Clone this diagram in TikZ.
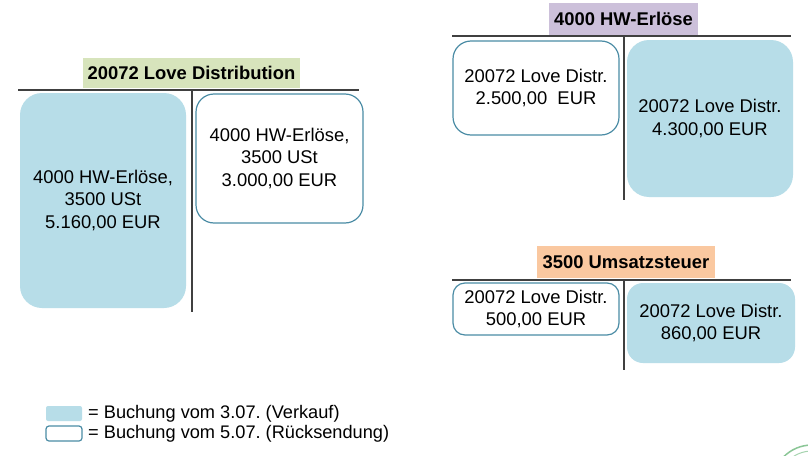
\documentclass[tikz,border=0pt]{standalone}
\usepackage{fontspec}
\setmainfont{Liberation Sans}
\frenchspacing
\definecolor{bookblue}{RGB}{183,221,232}
\definecolor{bookedge}{RGB}{75,140,165}
\definecolor{tline}{RGB}{64,64,64}
\definecolor{titlegreen}{RGB}{215,228,188}
\definecolor{titlelila}{RGB}{204,192,218}
\definecolor{titlepeach}{RGB}{250,200,160}
\definecolor{stampgreen}{RGB}{60,160,80}
\tikzset{
  x=1pt, y=-1pt,
  tacc/.style={draw=tline, line width=1.5pt},
  sale/.style={fill=bookblue, draw=none, rounded corners=#1, inner sep=0pt, align=center, font=\fontsize{18.4}{22.5}\selectfont},
  sale/.default=22pt,
  ret/.style={fill=white, draw=bookedge, line width=1.2pt, rounded corners=#1, inner sep=0pt, align=center, font=\fontsize{18.4}{22.5}\selectfont},
  ret/.default=18pt,
  acctitle/.style={inner sep=0pt, font=\bfseries\fontsize{18.4}{22}\selectfont},
  legtext/.style={anchor=west, inner sep=0pt, font=\fontsize{18.2}{22}\selectfont},
}
\begin{document}
\begin{tikzpicture}
\useasboundingbox (0,0) rectangle (808,455);
\fill[white] (0,0) rectangle (808,455);

% ---- Account 20072 Love Distribution
\node[acctitle, fill=titlegreen, minimum width=217pt, minimum height=30pt] (t1) at (191.5,73) {20072 Love Distribution};
\coordinate (h1l) at (18,90);
\coordinate (h1r) at (359,90);
\coordinate (v1t) at (192,90);
\coordinate (v1b) at (192,312);
\node[sale, minimum width=166pt, minimum height=215pt] (b1) at (103,200.5) {4000 HW-Erlöse,\\3500 USt\\5.160,00 EUR};
\node[ret, minimum width=167pt, minimum height=129pt] (w1) at (279.5,158.5) {4000 HW-Erlöse,\\3500 USt\\3.000,00 EUR};
\draw[tacc] (h1l) -- (h1r);
\draw[tacc] (v1t) -- (v1b);

% ---- Account 4000 HW-Erlöse
\node[acctitle, fill=titlelila, minimum width=149pt, minimum height=32pt] (t2) at (623.5,19) {4000 HW-Erlöse};
\coordinate (h2l) at (452,36);
\coordinate (h2r) at (791,36);
\coordinate (v2t) at (624,36);
\coordinate (v2b) at (624,200);
\draw[tacc] (h2l) -- (h2r);
\draw[tacc] (v2t) -- (v2b);
\node[ret, minimum width=166pt, minimum height=94pt] (w2) at (536,88) {20072 Love Distr.\\2.500,00~~EUR};
\node[sale, minimum width=166pt, minimum height=157pt] (b2) at (710,118.5) {20072 Love Distr.\\4.300,00 EUR};

% ---- Account 3500 Umsatzsteuer
\node[acctitle, fill=titlepeach, minimum width=178pt, minimum height=32pt] (t3) at (626,262) {3500 Umsatzsteuer};
\coordinate (h3l) at (452,280);
\coordinate (h3r) at (791,280);
\coordinate (v3t) at (624,280);
\coordinate (v3b) at (624,370);
\draw[tacc] (h3l) -- (h3r);
\draw[tacc] (v3t) -- (v3b);
\node[ret=12pt, minimum width=166pt, minimum height=52pt] (w3) at (536,309) {20072 Love Distr.\\500,00 EUR};
\node[sale=16pt, minimum width=168pt, minimum height=80pt] (b3) at (711,323) {20072 Love Distr.\\860,00 EUR};

% ---- Legend
\node[fill=bookblue, rounded corners=2pt, minimum width=36pt, minimum height=15pt, inner sep=0pt] (lg1) at (64,413.5) {};
\node[draw=bookedge, line width=1.2pt, rounded corners=3pt, minimum width=36pt, minimum height=15pt, inner sep=0pt] (lg2) at (64,433.5) {};
\node[legtext] (lt1) at (88,413.5) {= Buchung vom 3.07. (Verkauf)};
\node[legtext] (lt2) at (88,433.5) {= Buchung vom 5.07. (Rücksendung)};

% ---- partial stamp in the corner
\begin{scope}
\clip (740,420) rectangle (808,455);
\draw[stampgreen!60, line width=1.5pt] (812,485) circle (40pt);
\draw[stampgreen!45, line width=1pt] (812,485) circle (34pt);
\end{scope}
\end{tikzpicture}
\end{document}
